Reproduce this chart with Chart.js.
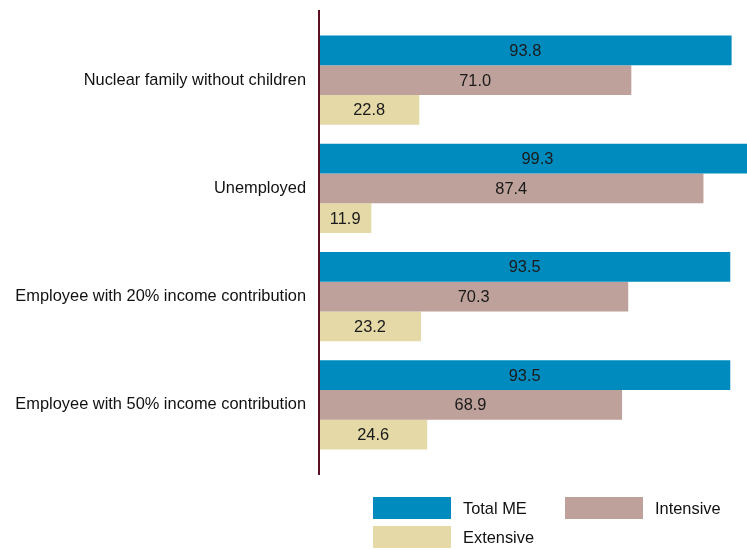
<!DOCTYPE html>
<html>
<head>
<meta charset="utf-8">
<script src="https://cdn.jsdelivr.net/npm/chart.js@4/dist/chart.umd.min.js"></script>
<style>
  html, body { margin: 0; padding: 0; background: #fff; overflow: hidden; }
  #wrap { position: relative; width: 747px; height: 550px; }
</style>
</head>
<body>
<div id="wrap"><canvas id="meChart" width="747" height="550"></canvas></div>
<script>
// categories and series
const categories = [
    'Nuclear family without children',
    'Unemployed',
    'Employee with 20% income contribution',
    'Employee with 50% income contribution'
];
const totalME = [93.8, 99.3, 93.5, 93.5];
const intensive = [71.0, 87.4, 70.3, 68.9];
const extensive = [22.8, 11.9, 23.2, 24.6];

const FONT = '"Liberation Sans", Arial, sans-serif';
const FSIZE = 16.4;

// value labels in the middle of each bar
const barLabels = {
    id: 'barLabels',
    afterDatasetsDraw(chart) {
        const ctx = chart.ctx;
        ctx.save();
        ctx.font = FSIZE + 'px ' + FONT;
        ctx.fillStyle = '#1a1a1a';
        ctx.textAlign = 'center';
        ctx.textBaseline = 'middle';
        chart.data.datasets.forEach((ds, i) => {
            chart.getDatasetMeta(i).data.forEach((bar, j) => {
                const x = (bar.base + bar.x) / 2;
                ctx.fillText(ds.data[j].toFixed(1), x, bar.y + 1);
            });
        });
        ctx.restore();
    }
};

// vertical axis line, a bit taller than the plot area
const axisLine = {
    id: 'axisLine',
    afterDatasetsDraw(chart) {
        const ctx = chart.ctx;
        const x = chart.scales.x.getPixelForValue(0);
        ctx.save();
        ctx.strokeStyle = '#5a0f22';
        ctx.lineWidth = 2;
        ctx.beginPath();
        ctx.moveTo(x, 10);
        ctx.lineTo(x, 475);
        ctx.stroke();
        ctx.restore();
    }
};

// legend: two columns, boxes 78x22
const boxLegend = {
    id: 'boxLegend',
    afterDraw(chart) {
        const ctx = chart.ctx;
        const cols = [373, 565];
        const rows = [497, 526];
        ctx.save();
        ctx.font = FSIZE + 'px ' + FONT;
        ctx.textBaseline = 'middle';
        ctx.textAlign = 'left';
        chart.data.datasets.forEach((ds, i) => {
            const x = cols[i % 2];
            const y = rows[Math.floor(i / 2)];
            ctx.fillStyle = ds.backgroundColor;
            ctx.fillRect(x, y, 78, 22);
            ctx.fillStyle = '#111';
            ctx.fillText(ds.label, x + 90, y + 12);
        });
        ctx.restore();
    }
};

const ctx = document.getElementById('meChart').getContext('2d');
new Chart(ctx, {
    type: 'bar',
    data: {
        labels: categories,
        datasets: [
            { label: 'Total ME', data: totalME, backgroundColor: '#008bbf' },
            { label: 'Intensive', data: intensive, backgroundColor: '#bda19a' },
            { label: 'Extensive', data: extensive, backgroundColor: '#e4d9a7' }
        ]
    },
    options: {
        indexAxis: 'y',
        responsive: false,
        animation: false,
        maintainAspectRatio: false,
        layout: { padding: { top: 26, bottom: 91, left: 0, right: 0 } },
        datasets: {
            bar: { barPercentage: 1, categoryPercentage: 0.824, clip: false }
        },
        plugins: {
            legend: { display: false },
            tooltip: { enabled: false }
        },
        scales: {
            x: {
                display: false,
                min: 0,
                max: 97.3
            },
            y: {
                grid: { display: false, drawTicks: false },
                border: { display: false },
                ticks: {
                    color: '#111',
                    padding: 13,
                    font: { family: FONT, size: FSIZE }
                },
                afterFit(scale) { scale.width = 319; }
            }
        }
    },
    plugins: [barLabels, axisLine, boxLegend]
});
</script>
</body>
</html>
